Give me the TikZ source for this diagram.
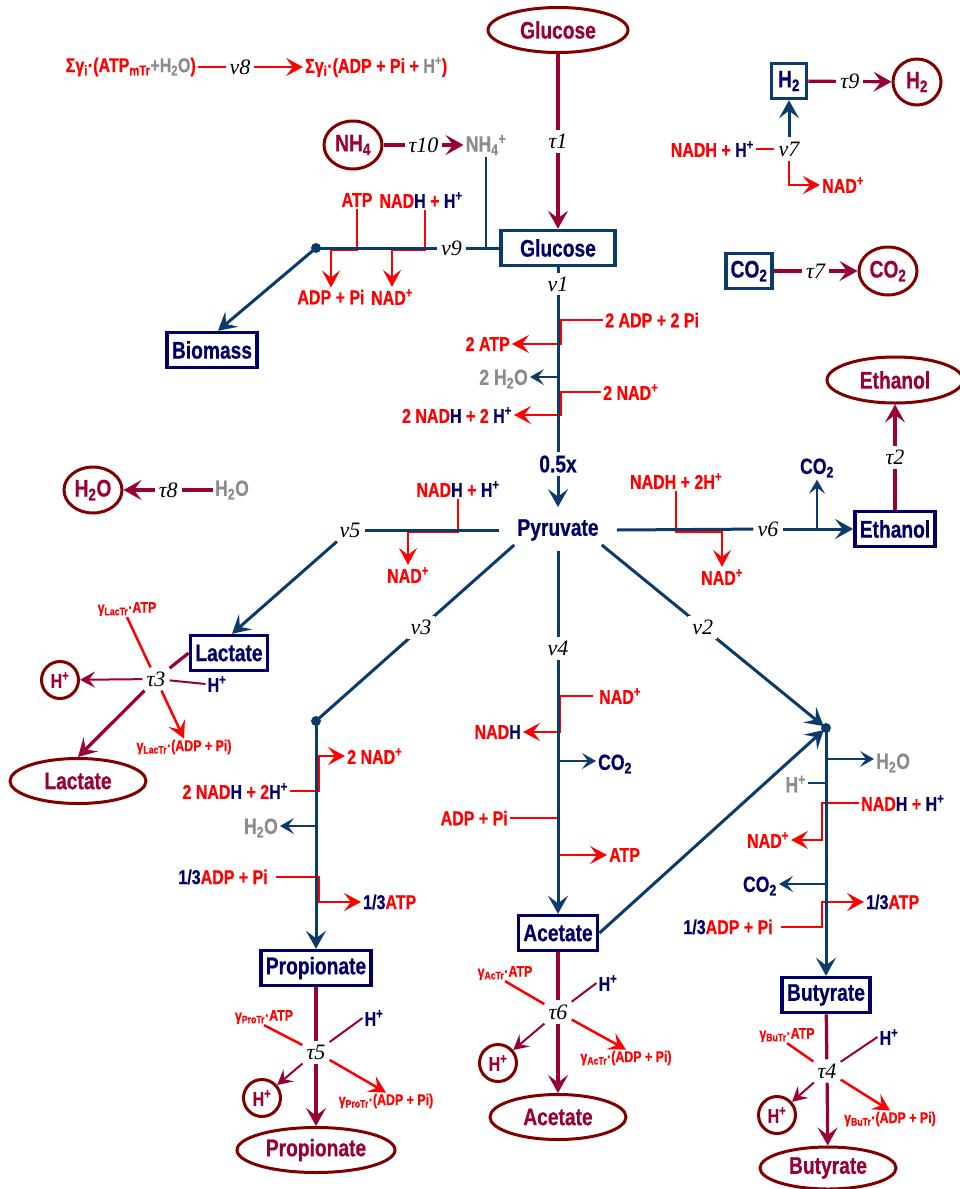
\documentclass[tikz,border=0pt]{standalone}
\usepackage{fontspec}
\setmainfont{Liberation Sans}[FakeStretch=0.8, BoldFeatures={FakeBold=0.6}]
\newfontfamily\greekfont{Liberation Serif}
\usepackage{xcolor}
\usetikzlibrary{arrows.meta, positioning, shapes.geometric}

\definecolor{redc}{HTML}{FF0000}
\definecolor{navyc}{HTML}{000066}
\definecolor{linec}{HTML}{0B3B6B}
\definecolor{maroonc}{HTML}{990033}
\definecolor{brownc}{HTML}{800000}
\definecolor{grayc}{HTML}{8C8C8C}

\newcommand\nvy[1]{\textcolor{navyc}{#1}}
\newcommand\gry[1]{\textcolor{grayc}{#1}}
\newcommand\Hp{H\textsuperscript{+}}
\newcommand\NADp{NAD\textsuperscript{+}}
\newcommand\lo[1]{\textsubscript{#1}}

\tikzset{
>={Stealth[length=18pt,width=20pt,inset=7.5pt]},
big/.style={font=\bfseries\fontsize{24}{26}\selectfont},
mid/.style={font=\bfseries\fontsize{22}{24}\selectfont, inner sep=2pt},
sml/.style={font=\bfseries\fontsize{20}{22}\selectfont, text=redc, inner sep=2pt},
tiny/.style={font=\bfseries\fontsize{15.5}{17}\selectfont, text=redc, inner sep=1pt},
rx/.style={font=\greekfont\itshape\fontsize{22}{22}\selectfont, fill=white, inner sep=4pt},
box/.style={big, draw=navyc, line width=3.5pt, text=navyc, fill=white, minimum height=35pt, inner xsep=5pt},
ibox/.style={box, draw=linec},
pool/.style={big, ellipse, draw=brownc, line width=3pt, text=maroonc, inner sep=0pt},
hpool/.style={pool, circle, minimum size=37pt, font=\bfseries\fontsize{20}{22}\selectfont},
flux/.style={draw=linec, line width=3pt},
side/.style={draw=linec, line width=2pt, >={Stealth[length=14pt,width=16pt,inset=6pt]}},
redl/.style={draw=redc, line width=2.5pt, >={Stealth[length=17pt,width=18pt,inset=7pt]}},
tr/.style={draw=maroonc, line width=3.2pt},
trt/.style={draw=maroonc, line width=2pt, >={Stealth[length=15pt,width=16pt,inset=6pt]}},
}

\begin{document}
\begin{tikzpicture}[x=1pt,y=-1pt]
\useasboundingbox (0,0) rectangle (959,1189);

% glucose uptake
\node[pool, minimum width=140pt, minimum height=45pt] (gluE) at (558,30) {Glucose};
\node[ibox, minimum width=114pt] (gluI) at (558,248) {Glucose};
\draw[tr,->] (gluE) -- node[rx]{τ1} (gluI);

% maintenance
\node[sml, anchor=east] (mL) at (198,67) {Σγ\lo{i}·(ATP\lo{mTr}\gry{+H\lo{2}O})};
\node[sml, anchor=west] (mR) at (303,67) {Σγ\lo{i}·(ADP + Pi + \gry{\Hp})};
\draw[redl,->] (mL) -- node[rx, pos=0.4]{ν8} (mR);

% ammonium
\node[pool, minimum width=58pt, minimum height=48pt] (nh4E) at (353,145) {NH\lo{4}};
\node[mid, text=grayc] (nh4I) at (486,145) {NH\lo{4}\textsuperscript{+}};
\draw[tr,->] (nh4E) -- node[rx]{τ10} (nh4I);
\draw[side] (nh4I.south) -- (nh4I.south |- gluI.west);

% biomass
\coordinate (d9) at (316,248);
\coordinate (r9) at (0,250);
\node[box] (bio) at (212,350) {Biomass};
\node[sml] (atp9) at (357,200) {ATP};
\node[sml] (nadh9) at (421,200) {NAD\nvy{H} + \nvy{\Hp}};
\node[sml] (adp9) at (331,297) {ADP + Pi};
\node[sml] (nad9) at (392,297) {\NADp};
\draw[redl,->] (atp9.south) -- (atp9.south |- r9) -| (adp9.north);
\draw[redl,->] ([xshift=4pt]nadh9.south) -- ([xshift=4pt]nadh9.south |- r9) -| (nad9.north);
\draw[flux] (gluI.west) -- node[rx, pos=0.26]{ν9} (d9);
\draw[flux,->] (d9) -- ([xshift=6pt]bio.north);
\fill[linec] (d9) circle (5pt);

% glycolysis
\node[big, text=navyc, inner xsep=3pt, inner ysep=4pt] (pyr) at (558,530) {Pyruvate};
\node[big, text=navyc, inner sep=3pt] (half) at (558,464) {0.5x};
\coordinate (s1) at (561,0);
\node[sml, anchor=west] (adp1) at (603,320) {2 ADP + 2 Pi};
\node[sml, anchor=east] (atp1) at (512,344) {2 ATP};
\draw[redl,->] (adp1.west) -| (s1 |- atp1.east) -- (atp1.east);
\node[mid, text=grayc, anchor=east] (w1) at (530,379) {2 H\lo{2}O};
\node[sml, anchor=west] (nad1) at (601,392) {2 \NADp};
\node[sml, anchor=east] (nadh1) at (514,415) {2 NAD\nvy{H} + 2 \nvy{\Hp}};
\draw[redl,->] (nad1.west) -| (s1 |- nadh1.east) -- (nadh1.east);
\draw[flux] (gluI.south) -- node[rx, pos=0.09]{ν1} (half.north);
\draw[side,->] (gluI.south |- 0,377) -- (w1.east |- 0,377);
\draw[flux,->,shorten >=8pt] (half.south) -- (pyr.north);

% lactate branch
\coordinate (r5) at (0,532);
\node[rx] (v5) at (350,530) {ν5};
\node[box] (lacI) at (229,653) {Lactate};
\node[sml] (nadh5) at (458,489) {NAD\nvy{H} + \nvy{\Hp}};
\node[sml] (nad5) at (408,575) {\NADp};
\draw[redl,->] (nadh5.south) -- (nadh5.south |- r5) -| (nad5.north);
\draw[flux] ([xshift=-15pt]pyr.west) -- (v5);
\draw[flux,->] (v5) -- ([xshift=3pt]lacI.north);

% ethanol branch
\node[rx] (v6) at (768,529) {ν6};
\node[box] (ethI) at (895,529) {Ethanol};
\node[mid, text=navyc] (co26) at (817,468) {CO\lo{2}};
\node[sml] (nadh6) at (676,481) {NADH + 2\Hp};
\node[sml] (nad6) at (722,577) {\NADp};
\draw[redl,->] (nadh6.south) -- (nadh6.south |- r5) -| (nad6.north);
\draw[flux] ([xshift=15pt]pyr.east) -- (v6);
\draw[flux,->] (v6) -- (ethI.west);
\draw[side,->] (co26.south |- ethI.west) -- (co26.south);
\node[pool, minimum width=136pt, minimum height=46pt] (ethE) at (895,380) {Ethanol};
\draw[tr,->] (ethI) -- node[rx]{τ2} (ethE);

% hydrogen
\node[ibox, minimum width=35pt, inner xsep=2pt] (h2I) at (789,81) {H\lo{2}};
\node[pool, minimum width=48pt, minimum height=46pt] (h2E) at (917,82) {H\lo{2}};
\draw[tr,->] (h2I) -- node[rx]{τ9} (h2E);
\node[rx] (v7) at (789,149) {ν7};
\node[sml, anchor=east] (nadh7) at (756,149) {NADH + \nvy{\Hp}};
\node[sml, anchor=west] (nad7) at (820,185) {\NADp};
\draw[redl] (nadh7.east) -- (v7.west);
\draw[redl,->] (v7.south) |- (nad7.west);
\draw[flux,->] (v7) -- (h2I);

% carbon dioxide and water
\node[ibox, minimum width=46pt, inner xsep=2pt] (co2I) at (749,271) {CO\lo{2}};
\node[pool, minimum width=58pt, minimum height=48pt] (co2E) at (888,271) {CO\lo{2}};
\draw[tr,->] (co2I) -- node[rx]{τ7} (co2E);
\node[pool, minimum width=58pt, minimum height=46pt] (h2oE) at (93,490) {H\lo{2}O};
\node[mid, text=grayc] (h2oI) at (232,490) {H\lo{2}O};
\draw[tr,->] (h2oI) -- node[rx]{τ8} (h2oE);

% lactate export
\node[rx] (t3) at (156,679) {τ3};
\node[tiny] (g3a) at (127,609) {γ\lo{LacTr}·ATP};
\node[tiny] (g3b) at (184,747) {γ\lo{LacTr}·(ADP + Pi)};
\node[sml, text=navyc] (h3) at (217,684) {\Hp};
\node[hpool] (h3c) at (60,680) {\Hp};
\node[pool, minimum width=136pt, minimum height=45pt] (lacE) at (78,781) {Lactate};
\draw[tr] (lacI.west) -- (t3);
\draw[redl] (t3) -- (g3a.south);
\draw[trt,->] (t3) -- (h3c);
\draw[trt] (t3) -- (h3.west);
\draw[tr,->] (t3) -- (lacE.north);
\draw[redl,->] (t3) -- (g3b.north);

% propionate branch
\coordinate (d3) at (316,721);
\coordinate (s3) at (319,0);
\node[box] (proI) at (316,968) {Propionate};
\node[sml, anchor=west] (nad3) at (345,756) {2 \NADp};
\node[sml, anchor=east] (nadh3) at (290,791) {2 NAD\nvy{H} + 2\nvy{\Hp}};
\draw[redl,->] (nadh3.east) -| (s3 |- nad3.west) -- (nad3.west);
\node[mid, text=grayc, anchor=east] (w3) at (280,828) {H\lo{2}O};
\node[sml, anchor=east] (adp3) at (270,877) {\nvy{1/3}ADP + Pi};
\node[sml, anchor=west] (atp3) at (361,902) {\nvy{1/3}ATP};
\draw[redl,->] ([xshift=6pt]adp3.east) -| (s3 |- atp3.west) -- (atp3.west);
\draw[flux] (pyr.south west) -- node[rx, pos=0.47]{ν3} (d3);
\draw[flux,->] (d3) -- (proI.north);
\draw[side,->] (d3 |- 0,826) -- (w3.east |- 0,826);
\fill[linec] (d3) circle (5pt);

% propionate export
\node[rx] (t5) at (316,1052) {τ5};
\node[tiny] (g5a) at (264,1017) {γ\lo{ProTr}·ATP};
\node[tiny] (g5b) at (386,1101) {γ\lo{ProTr}·(ADP + Pi)};
\node[sml, text=navyc] (h5) at (374,1018) {\Hp};
\node[hpool] (h5c) at (262,1098) {\Hp};
\node[pool, minimum width=158pt, minimum height=45pt] (proE) at (316,1150) {Propionate};
\draw[tr] (proI) -- (t5);
\draw[redl] (t5) -- (g5a.south);
\draw[trt] (t5) -- (h5.west);
\draw[trt,->] (t5) -- (h5c);
\draw[tr,->] (t5) -- (proE);
\draw[redl,->] (t5) -- (g5b.north);

% acetate branch
\coordinate (s4) at (560,0);
\node[box] (acI) at (558,933) {Acetate};
\node[sml, anchor=west] (nad4) at (597,696) {\NADp};
\node[sml, anchor=east] (nadh4) at (523,732) {NAD\nvy{H}};
\draw[redl,->,shorten <=4pt] (nad4.west) -| (s4 |- nadh4.east) -- (nadh4.east);
\node[mid, text=navyc, anchor=west] (co24) at (596,764) {CO\lo{2}};
\node[sml, anchor=east] (adp4) at (510,818) {ADP + Pi};
\node[sml, anchor=west] (atp4) at (607,855) {ATP};
\draw[redl,->] (adp4.east) -| (pyr.south |- atp4.west) -- (atp4.west);
\draw[flux,->,shorten <=6pt] (pyr.south) -- node[rx, pos=0.28]{ν4} (acI.north);
\draw[side,->] (pyr.south |- 0,761) -- (co24.west |- 0,761);

% acetate export
\node[rx] (t6) at (558,1012) {τ6};
\node[tiny] (g6a) at (505,973) {γ\lo{AcTr}·ATP};
\node[tiny] (g6b) at (626,1058) {γ\lo{AcTr}·(ADP + Pi)};
\node[sml, text=navyc] (h6) at (608,983) {\Hp};
\node[hpool] (h6c) at (498,1063) {\Hp};
\node[pool, minimum width=136pt, minimum height=45pt] (acE) at (558,1117) {Acetate};
\draw[tr] (acI) -- (t6);
\draw[redl] (t6) -- (g6a.south);
\draw[trt] (t6) -- (h6.west);
\draw[trt,->] (t6) -- (h6c);
\draw[tr,->] (t6) -- (acE);
\draw[redl,->] (t6) -- (g6b.north);

% butyrate branch
\coordinate (d2) at (826,728);
\coordinate (s2) at (822,0);
\node[box] (buI) at (826,995) {Butyrate};
\node[mid, text=grayc, anchor=west] (w2) at (874,763) {H\lo{2}O};
\node[mid, text=grayc, anchor=east] (hp2) at (808,784) {\Hp};
\node[sml, anchor=west] (nadh2) at (859,803) {NAD\nvy{H} + \nvy{\Hp}};
\node[sml, anchor=east] (nad2) at (791,840) {\NADp};
\draw[redl,->] (nadh2.west) -| (s2 |- nad2.east) -- (nad2.east);
\node[mid, text=navyc, anchor=east] (co22) at (779,886) {CO\lo{2}};
\node[sml, anchor=east] (adp2) at (775,927) {\nvy{1/3}ADP + Pi};
\node[sml, anchor=west] (atp2) at (864,902) {\nvy{1/3}ATP};
\draw[redl,->] ([xshift=6pt]adp2.east) -| (s2 |- atp2.west) -- (atp2.west);
\draw[flux,->,shorten >=3pt] (pyr.south east) -- node[rx, pos=0.45]{ν2} (d2);
\draw[flux,->,shorten >=3pt] (acI.east) -- (d2);
\draw[flux,->] (d2) -- (buI.north);
\draw[side,->] (d2 |- 0,759) -- (w2.west |- 0,759);
\draw[side] (hp2.east |- 0,783) -- (d2 |- 0,783);
\draw[side,->] (d2 |- 0,884) -- (co22.east |- 0,884);
\fill[linec] (d2) circle (5pt);

% butyrate export
\node[rx] (t4) at (827,1071) {τ4};
\node[tiny] (g4a) at (787,1035) {γ\lo{BuTr}·ATP};
\node[tiny] (g4b) at (890,1119) {γ\lo{BuTr}·(ADP + Pi)};
\node[sml, text=navyc] (h4) at (889,1037) {\Hp};
\node[hpool] (h4c) at (777,1115) {\Hp};
\node[pool, minimum width=136pt, minimum height=42pt] (buE) at (828,1168) {Butyrate};
\draw[tr] (buI) -- (t4);
\draw[redl] (t4) -- (g4a.south);
\draw[trt] (t4) -- (h4.west);
\draw[trt,->] (t4) -- (h4c);
\draw[tr,->] (t4) -- (buE);
\draw[redl,->] (t4) -- (g4b.north);
\end{tikzpicture}
\end{document}
